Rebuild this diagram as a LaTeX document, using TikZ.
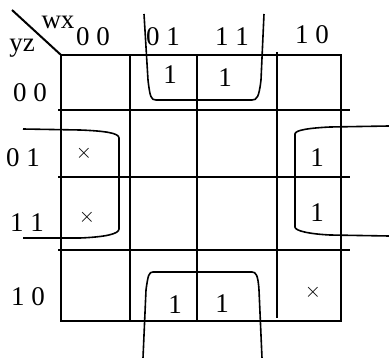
\documentclass[tikz,border=0pt]{standalone}
\usepackage{fontspec}
\setmainfont{Liberation Serif}
\begin{document}
\begin{tikzpicture}[x=1pt,y=-1pt,
  gridline/.style={line width=2pt},
  grouploop/.style={line width=1.6pt},
  lbl/.style={font=\fontsize{27}{27}\selectfont, inner sep=0pt},
  val/.style={font=\fontsize{27}{27}\selectfont, inner sep=0pt},
  dc/.style={font=\fontsize{22}{22}\selectfont, inner sep=0pt}]
\useasboundingbox (0,0) rectangle (389,358);
% grid
\draw[gridline] (61,55) rectangle (341,321);
\draw[gridline] (130,55) -- (130,321);
\draw[gridline] (197,55) -- (197,321);
\draw[gridline] (277,52) -- (277,318);
\draw[gridline] (58,110) -- (350,110);
\draw[gridline] (58,177) -- (350,177);
\draw[gridline] (58,250) -- (350,250);
\draw[gridline] (12,10) -- (61,55);
% labels
\node[lbl] (wx) at (58,22) {wx};
\node[lbl] (yz) at (22,48) {yz};
\node[lbl] (c00) at (93,37) {0 0};
\node[lbl] (c01) at (163,37) {0 1};
\node[lbl] (c11) at (232,37) {1 1};
\node[lbl] (c10) at (312,35) {1 0};
\node[lbl] (r00) at (30,93) {0 0};
\node[lbl] (r01) at (23,158) {0 1};
\node[lbl] (r11) at (27,223) {1 1};
\node[lbl] (r10) at (28,297) {1 0};
% cells
\node[val] (m4) at (170,75) {1};
\node[val] (m12) at (225,78) {1};
\node[dc] (m1) at (84,153) {$\times$};
\node[dc] (m3) at (87,217) {$\times$};
\node[val] (m9) at (317,158) {1};
\node[val] (m11) at (317,213) {1};
\node[val] (m6) at (175,305) {1};
\node[val] (m14) at (222,304) {1};
\node[dc] (m10) at (313,292) {$\times$};
% loops
\draw[grouploop] (144,14) -- (148,80) .. controls (150,97) and (151,100) .. (156,100) -- (252,100) .. controls (257,100) and (259,97) .. (261,80) -- (264,14);
\draw[grouploop] (23,129) -- (80,130) .. controls (105,131) and (119,133) .. (119,138) -- (119,229) .. controls (119,234) and (105,237) .. (80,238) -- (23,238);
\draw[grouploop] (389,126) -- (330,127) .. controls (310,128) and (295,130) .. (295,134) -- (295,227) .. controls (295,231) and (310,234) .. (330,235) -- (389,236);
\draw[grouploop] (143,358) -- (146,290) .. controls (148,275) and (149,272) .. (153,272) -- (252,272) .. controls (256,272) and (258,275) .. (259,290) -- (262,358);
\end{tikzpicture}
\end{document}
